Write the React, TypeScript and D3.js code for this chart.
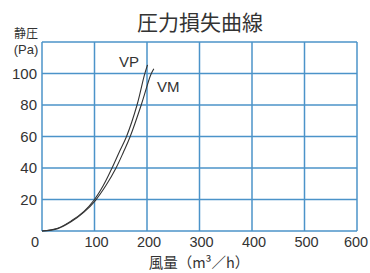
import React from 'react';
import * as d3 from 'd3';

const xTicks = [0, 100, 200, 300, 400, 500, 600];
const yTicks = [20, 40, 60, 80, 100];
const yGrid = [0, 20, 40, 60, 80, 100, 120];

// 風量 (m3/h) vs 静圧 (Pa)
const vpFlow = [0, 30, 56, 80, 100, 117, 132, 147, 161, 181, 195, 201];
const vpPress = [0, 1.8, 6.5, 12.5, 20, 29, 39, 50, 60, 80, 99, 105.5];
const vmFlow = [0, 30, 56, 80, 102, 122, 141, 155, 168, 189, 207, 213];
const vmPress = [0, 1.5, 6, 12, 19.5, 29, 40, 50, 60, 80, 99, 103];

const FONT = '"Liberation Sans", "Noto Sans CJK JP", sans-serif';
const JP = '"Noto Sans CJK JP", sans-serif';

const App = () => {
  const width = 370;
  const height = 273;
  const margin = { top: 42, right: 13, bottom: 42, left: 42 };

  const x = d3.scaleLinear().domain([0, 600]).range([margin.left, width - margin.right]);
  const y = d3.scaleLinear().domain([0, 120]).range([height - margin.bottom, margin.top]);

  const line = d3
    .line<[number, number]>()
    .x(d => x(d[0]))
    .y(d => y(d[1]))
    .curve(d3.curveCatmullRom.alpha(0.5));

  const vp = line(vpFlow.map((f, i) => [f, vpPress[i]] as [number, number]));
  const vm = line(vmFlow.map((f, i) => [f, vmPress[i]] as [number, number]));

  const gridColor = '#4b93c9';

  return (
    <svg
      width={width}
      height={height}
      style={{ position: 'absolute', left: 0, top: 0, background: '#fff' }}
    >
      <text x={200} y={30} textAnchor="middle" fontFamily={JP} fontSize={21} fill="#333">
        圧力損失曲線
      </text>

      {/* grid */}
      {xTicks.map(t => (
        <line key={'vx' + t} x1={x(t)} x2={x(t)} y1={y(0)} y2={y(120)} stroke={gridColor} strokeWidth={1.5} />
      ))}
      {yGrid.map(t => (
        <line key={'hy' + t} x1={x(0)} x2={x(600)} y1={y(t)} y2={y(t)} stroke={gridColor} strokeWidth={1.5} />
      ))}

      {/* curves */}
      <path d={vp || ''} fill="none" stroke="#333" strokeWidth={1.1} />
      <path d={vm || ''} fill="none" stroke="#333" strokeWidth={1.1} />
      <text x={119} y={67} fontFamily={FONT} fontSize={15} fill="#333">VP</text>
      <text x={157} y={92} fontFamily={FONT} fontSize={15} fill="#333">VM</text>

      {/* y axis labels */}
      {yTicks.map(t => (
        <text key={'yl' + t} x={37} y={y(t)} dy="0.35em" textAnchor="end" fontFamily={FONT} fontSize={15} fill="#333">
          {t}
        </text>
      ))}
      <text x={26} y={38} textAnchor="middle" fontFamily={JP} fontSize={12} fill="#333">静圧</text>
      <text x={26} y={54} textAnchor="middle" fontFamily={FONT} fontSize={13} fill="#333">(Pa)</text>

      {/* x axis labels */}
      {xTicks.map(t => (
        <text
          key={'xl' + t}
          x={t === 0 ? x(t) - 7 : t === 600 ? x(t) - 1 : x(t) + 2}
          y={247}
          textAnchor="middle"
          fontFamily={FONT}
          fontSize={14.5}
          fill="#333"
        >
          {t}
        </text>
      ))}
      <text x={199} y={268} textAnchor="middle" fontFamily={JP} fontSize={14.5} fill="#333">
        風量（m³／h）
      </text>
    </svg>
  );
};

export default App;
